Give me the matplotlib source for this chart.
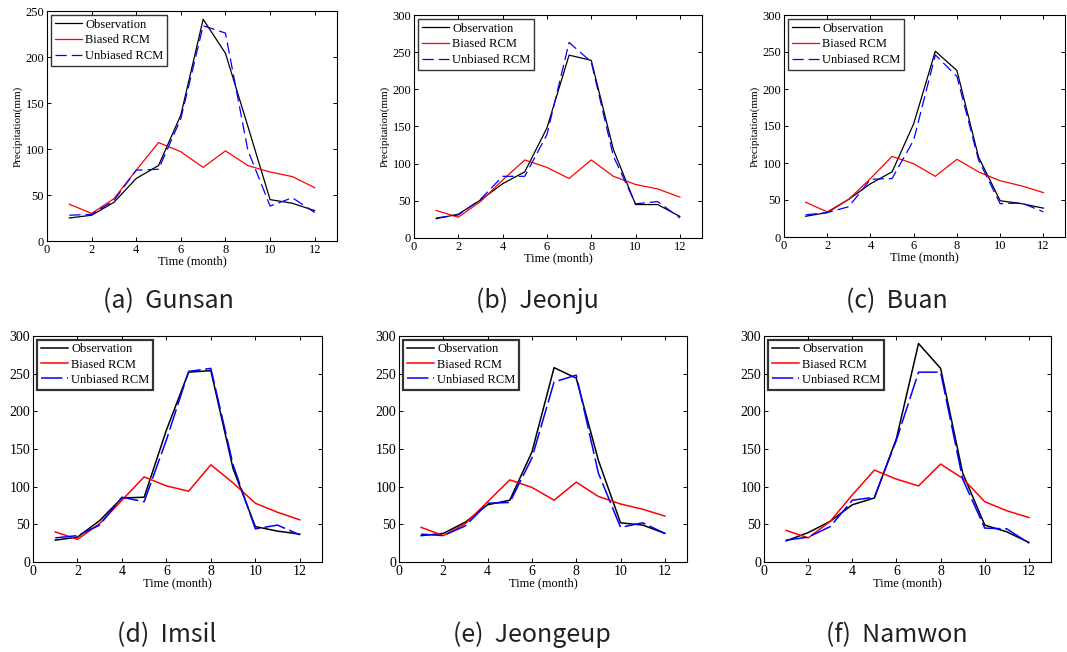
import numpy as np
import matplotlib
matplotlib.use("Agg")
import matplotlib.pyplot as plt

W, H = 1067, 652

months = np.arange(1, 13)

# monthly precipitation (mm) per station
gunsan_obs = [25, 28, 42, 68, 82, 137, 241, 204, 125, 45, 41, 33]
gunsan_biased = [40, 30, 46, 77, 107, 97, 80, 98, 82, 75, 70, 58]
gunsan_unbiased = [28, 29, 44, 77, 78, 133, 234, 226, 99, 38, 47, 31]

jeonju_obs = [26, 32, 51, 73, 89, 148, 246, 239, 119, 45, 45, 29]
jeonju_biased = [37, 28, 49, 78, 105, 95, 80, 105, 83, 72, 66, 55]
jeonju_unbiased = [27, 31, 52, 83, 83, 139, 263, 237, 110, 46, 49, 27]

buan_obs = [28, 33, 51, 72, 88, 153, 251, 225, 108, 49, 45, 39]
buan_biased = [47, 34, 51, 79, 109, 99, 82, 105, 88, 76, 69, 60]
buan_unbiased = [30, 33, 41, 78, 79, 131, 246, 217, 104, 45, 46, 34]

imsil_obs = [29, 33, 55, 85, 86, 175, 252, 254, 124, 47, 41, 37]
imsil_biased = [40, 30, 51, 82, 113, 101, 94, 129, 105, 78, 66, 56]
imsil_unbiased = [32, 35, 49, 86, 80, 162, 253, 257, 129, 44, 49, 36]

jeongeup_obs = [35, 38, 53, 76, 82, 146, 258, 244, 135, 52, 49, 38]
jeongeup_biased = [46, 35, 51, 80, 109, 99, 82, 106, 87, 77, 70, 61]
jeongeup_unbiased = [37, 35, 48, 78, 79, 138, 239, 248, 118, 46, 52, 38]

namwon_obs = [28, 39, 54, 76, 85, 164, 290, 257, 118, 49, 40, 26]
namwon_biased = [42, 32, 54, 89, 122, 110, 101, 130, 111, 80, 68, 59]
namwon_unbiased = [29, 33, 47, 82, 86, 162, 252, 252, 110, 45, 44, 25]

captions = ["(a)  Gunsan", "(b)  Jeonju", "(c)  Buan",
            "(d)  Imsil", "(e)  Jeongeup", "(f)  Namwon"]
obs_list = [gunsan_obs, jeonju_obs, buan_obs, imsil_obs, jeongeup_obs, namwon_obs]
biased_list = [gunsan_biased, jeonju_biased, buan_biased,
               imsil_biased, jeongeup_biased, namwon_biased]
unbiased_list = [gunsan_unbiased, jeonju_unbiased, buan_unbiased,
                 imsil_unbiased, jeongeup_unbiased, namwon_unbiased]
ymax_list = [250, 300, 300, 300, 300, 300]

# axes boxes in pixels: left, top, right, bottom
boxes = [(47, 11, 337, 241), (414, 15, 702, 238), (784, 15, 1065, 237),
         (33, 336, 322, 562), (399, 336, 687, 562), (764, 336, 1051, 562)]
caption_pos = [(168, 301), (537, 301), (897, 301),
               (167, 635), (532, 635), (897, 635)]

serif = ["Liberation Serif", "DejaVu Serif"]

fig = plt.figure(figsize=(W / 100, H / 100), dpi=100)

def px_axes(l, t, r, b):
    return fig.add_axes([l / W, 1 - b / H, (r - l) / W, (b - t) / H])

for i in range(6):
    top_row = i < 3
    ax = px_axes(*boxes[i])
    lw = 0.9 if top_row else 1.1
    dash = (9, 4) if top_row else (14, 3)
    ax.plot(months, obs_list[i], color="black", lw=lw, label="Observation")
    ax.plot(months, biased_list[i], color="red", lw=lw, label="Biased RCM")
    ax.plot(months, unbiased_list[i], color="blue", lw=lw, dashes=dash,
            label="Unbiased RCM")
    ax.set_xlim(0, 13)
    ax.set_ylim(0, ymax_list[i])
    ax.set_xticks(range(0, 13, 2))
    ax.set_yticks(range(0, ymax_list[i] + 1, 50))
    fs_tick = 9 if top_row else 10
    ax.tick_params(direction="in", top=True, right=True, length=3,
                   width=0.7, labelsize=fs_tick, pad=2)
    for lab in ax.get_xticklabels() + ax.get_yticklabels():
        lab.set_fontfamily(serif)
    for sp in ax.spines.values():
        sp.set_linewidth(0.8)
    ax.set_xlabel("Time (month)", family=serif, fontsize=9, labelpad=0)
    if top_row:
        ax.set_ylabel("Precipitation(mm)", family=serif, fontsize=8, labelpad=2)
    leg = ax.legend(loc="upper left", prop={"family": serif, "size": 9},
                    frameon=True, fancybox=False, borderaxespad=0.3,
                    handlelength=2.2, handletextpad=0.25,
                    labelspacing=0.3 if top_row else 0.25, borderpad=0.3)
    leg.get_frame().set_edgecolor("black")
    leg.get_frame().set_linewidth(1.0 if top_row else 1.6)
    cx, cy = caption_pos[i]
    fig.text(cx / W, 1 - cy / H, captions[i], ha="center", va="center",
             fontsize=18, fontweight="light", color="#222222",
             family=["Noto Sans CJK KR", "DejaVu Sans"])

fig.savefig("out.png", dpi=100)
